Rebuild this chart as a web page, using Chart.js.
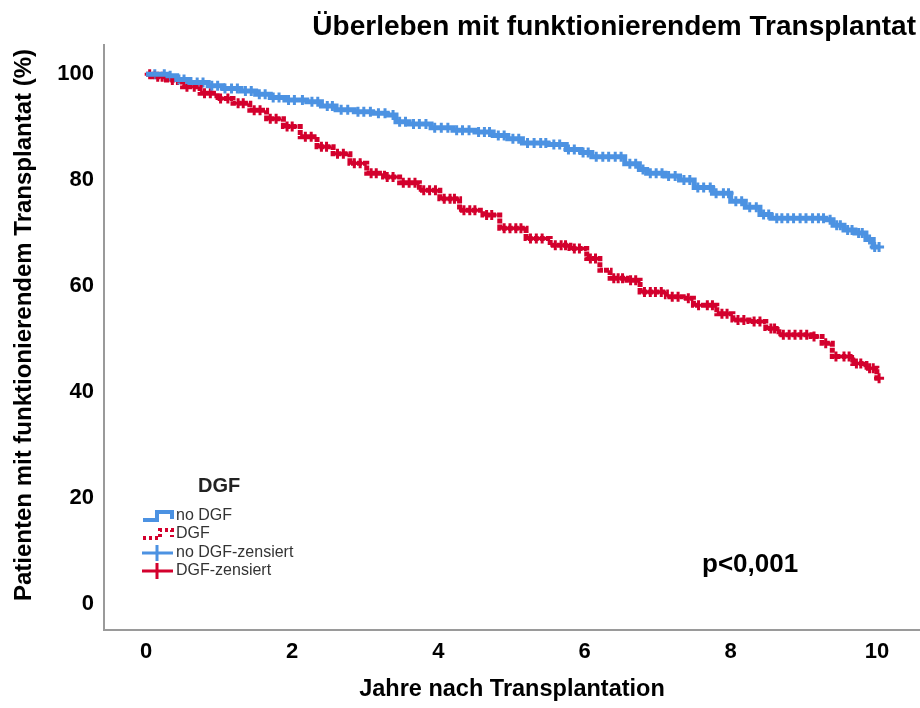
<!DOCTYPE html>
<html><head><meta charset="utf-8">
<script src="https://cdn.jsdelivr.net/npm/chart.js@4.4.1/dist/chart.umd.min.js"></script>
<style>html,body{margin:0;padding:0;background:#fff}#wrap{width:920px;height:708px;position:relative}</style>
</head><body><div id="wrap"><canvas id="c" width="920" height="708"></canvas></div>
<script>
const chartTitle = "Überleben mit funktionierendem Transplantat";
const xAxisTitle = "Jahre nach Transplantation";
const yAxisTitle = "Patienten mit funktionierendem Transplantat (%)";
const legendTitle = "DGF";
const seriesNames = ["no DGF", "DGF", "no DGF-zensiert", "DGF-zensiert"];
const pValueText = "p<0,001";
const xTicks = [0, 2, 4, 6, 8, 10];
const yTicks = [0, 20, 40, 60, 80, 100];

const noDgfYears = [0, 0.3, 0.42, 0.6, 0.85, 1.05, 1.3, 1.5, 1.7, 1.9, 2.2, 2.4, 2.6, 2.85, 3.1, 3.3, 3.42, 3.6, 3.9, 4.2, 4.5, 4.75, 4.95, 5.15, 5.5, 5.75, 5.95, 6.1, 6.55, 6.75, 6.85, 7.1, 7.3, 7.5, 7.75, 8.0, 8.2, 8.4, 8.55, 9.3, 9.4, 9.55, 9.7, 9.85, 9.95, 10.04];
const noDgfSurvival = [100, 99.7, 99.0, 98.4, 97.8, 97.3, 96.8, 96.2, 95.6, 95.1, 94.8, 94.0, 93.3, 92.9, 92.6, 92.3, 91.0, 90.6, 89.9, 89.4, 89.1, 88.4, 87.8, 87.0, 86.7, 85.8, 85.2, 84.4, 83.1, 82.0, 81.3, 80.8, 80.0, 78.6, 77.5, 76.0, 74.9, 73.5, 72.8, 72.5, 71.5, 70.6, 70.0, 68.8, 67.4, 67.4];
const dgfYears = [0, 0.1, 0.28, 0.5, 0.74, 0.97, 1.19, 1.42, 1.65, 1.88, 2.11, 2.34, 2.56, 2.79, 3.02, 3.25, 3.47, 3.74, 4.02, 4.29, 4.61, 4.84, 5.2, 5.53, 5.8, 6.03, 6.21, 6.35, 6.58, 6.76, 7.12, 7.35, 7.49, 7.81, 8.03, 8.25, 8.48, 8.66, 9.1, 9.25, 9.39, 9.67, 9.85, 10.0, 10.04];
const dgfSurvival = [100, 99.5, 98.9, 97.6, 96.4, 95.4, 94.5, 93.2, 91.6, 90.1, 88.2, 86.3, 85.0, 83.2, 81.3, 80.6, 79.5, 78.1, 76.5, 74.3, 73.4, 70.9, 69.0, 67.7, 67.1, 65.2, 63.0, 61.5, 61.1, 58.9, 58.0, 57.7, 56.4, 54.8, 53.6, 53.3, 52.0, 50.8, 50.5, 49.2, 46.7, 45.4, 44.5, 42.6, 42.6];

const noDgfCensored = [0.12, 0.25, 0.33, 0.45, 0.52, 0.61, 0.7, 0.78, 0.9, 0.98, 1.08, 1.17, 1.25, 1.36, 1.44, 1.55, 1.63, 1.74, 1.82, 1.95, 2.03, 2.14, 2.27, 2.35, 2.48, 2.55, 2.67, 2.76, 2.9, 2.98, 3.07, 3.18, 3.27, 3.38, 3.47, 3.55, 3.66, 3.74, 3.83, 3.95, 4.04, 4.13, 4.25, 4.33, 4.42, 4.55, 4.63, 4.7, 4.82, 4.9, 5.02, 5.1, 5.22, 5.31, 5.4, 5.47, 5.58, 5.66, 5.78, 5.86, 5.98, 6.05, 6.16, 6.25, 6.33, 6.42, 6.5, 6.62, 6.7, 6.8, 6.9, 6.98, 7.06, 7.15, 7.24, 7.36, 7.44, 7.55, 7.63, 7.72, 7.8, 7.9, 7.97, 8.07, 8.15, 8.26, 8.35, 8.45, 8.52, 8.63, 8.7, 8.78, 8.86, 8.95, 9.03, 9.12, 9.2, 9.27, 9.36, 9.45, 9.5, 9.6, 9.66, 9.75, 9.8, 9.9, 9.97, 10.03];
const dgfCensored = [0.05, 0.16, 0.22, 0.36, 0.43, 0.56, 0.66, 0.8, 0.88, 1.02, 1.12, 1.26, 1.33, 1.48, 1.56, 1.7, 1.78, 1.93, 2.0, 2.18, 2.26, 2.4, 2.47, 2.62, 2.7, 2.85, 2.93, 3.08, 3.15, 3.3, 3.38, 3.52, 3.6, 3.68, 3.8, 3.88, 3.96, 4.08, 4.16, 4.22, 4.35, 4.43, 4.5, 4.66, 4.73, 4.9, 4.98, 5.06, 5.13, 5.26, 5.34, 5.42, 5.6, 5.68, 5.74, 5.86, 5.93, 6.08, 6.15, 6.4, 6.46, 6.52, 6.63, 6.7, 6.82, 6.9, 6.97, 7.05, 7.2, 7.28, 7.42, 7.56, 7.68, 7.75, 7.88, 7.95, 8.1, 8.18, 8.32, 8.4, 8.55, 8.6, 8.72, 8.8, 8.88, 8.96, 9.04, 9.14, 9.3, 9.44, 9.55, 9.62, 9.72, 9.78, 9.9, 9.95, 10.03];

const blue = '#4C92E2';
const red = '#D3002D';
const FONT = '"Liberation Sans", Arial, sans-serif';

function survAt(years, surv, t) {
  let v = surv[0];
  for (let i = 0; i < years.length; i++) if (years[i] <= t) v = surv[i];
  return v;
}
const toPts = (ys, ss) => ys.map((x, i) => ({x: x, y: ss[i]}));
const censPts = (cs, ys, ss) => cs.map(t => ({x: t, y: survAt(ys, ss, t)}));

const overlay = {
  id: 'overlay',
  afterDraw(chart) {
    const ctx = chart.ctx;
    ctx.save();
    ctx.fillStyle = '#000';
    ctx.textAlign = 'right';
    ctx.textBaseline = 'alphabetic';
    ctx.font = 'bold 28px ' + FONT;
    ctx.fillText(chartTitle, 916, 35);
    ctx.textAlign = 'left';
    ctx.font = 'bold 26px ' + FONT;
    ctx.fillText(pValueText, 702, 572);
    // y axis title
    ctx.save();
    ctx.translate(24, 325);
    ctx.rotate(-Math.PI / 2);
    ctx.textAlign = 'center';
    ctx.textBaseline = 'middle';
    ctx.font = 'bold 24px ' + FONT;
    ctx.fillText(yAxisTitle, 0, 0);
    ctx.restore();
    // legend
    ctx.font = 'bold 20px ' + FONT;
    ctx.fillStyle = '#222';
    ctx.fillText(legendTitle, 198, 492);
    ctx.lineCap = 'butt';
    ctx.lineWidth = 4;
    ctx.strokeStyle = blue;
    ctx.beginPath();
    ctx.moveTo(143, 520); ctx.lineTo(157, 520); ctx.lineTo(157, 512); ctx.lineTo(172, 512); ctx.lineTo(172, 519);
    ctx.stroke();
    ctx.strokeStyle = red;
    ctx.setLineDash([3, 3]);
    ctx.beginPath();
    ctx.moveTo(143, 538); ctx.lineTo(160, 538); ctx.lineTo(160, 530); ctx.lineTo(172, 530); ctx.lineTo(172, 537);
    ctx.stroke();
    ctx.setLineDash([]);
    ctx.lineWidth = 3;
    [[blue, 553], [red, 571]].forEach(([c, y]) => {
      ctx.strokeStyle = c;
      ctx.beginPath();
      ctx.moveTo(142, y); ctx.lineTo(173, y);
      ctx.moveTo(157, y - 8); ctx.lineTo(157, y + 8);
      ctx.stroke();
    });
    ctx.fillStyle = '#333';
    ctx.font = '16px ' + FONT;
    ctx.textBaseline = 'middle';
    const ys = [516, 534, 553, 571];
    seriesNames.forEach((n, i) => ctx.fillText(n, 176, ys[i]));
    ctx.restore();
  }
};

new Chart(document.getElementById('c'), {
  type: 'scatter',
  data: {
    datasets: [
      {label: seriesNames[2], data: censPts(noDgfCensored, noDgfYears, noDgfSurvival), showLine: false, pointStyle: 'cross', pointRadius: 5, borderColor: blue, backgroundColor: blue, pointBorderWidth: 3, order: 3},
      {label: seriesNames[3], data: censPts(dgfCensored, dgfYears, dgfSurvival), showLine: false, pointStyle: 'cross', pointRadius: 5, borderColor: red, backgroundColor: red, pointBorderWidth: 3, order: 4},
      {label: seriesNames[0], data: toPts(noDgfYears, noDgfSurvival), showLine: true, stepped: true, borderColor: blue, borderWidth: 5, pointRadius: 0, order: 1},
      {label: seriesNames[1], data: toPts(dgfYears, dgfSurvival), showLine: true, stepped: true, borderColor: red, borderWidth: 5, borderDash: [5, 1], pointRadius: 0, order: 2}
    ]
  },
  options: {
    responsive: false,
    animation: false,
    devicePixelRatio: 1,
    layout: {autoPadding: false, padding: {top: 45, right: 0, bottom: 0, left: 0}},
    plugins: {legend: {display: false}, tooltip: {enabled: false}, title: {display: false}},
    scales: {
      x: {
        type: 'linear', min: -0.575, max: 10.59,
        afterBuildTicks: s => { s.ticks = xTicks.map(v => ({value: v})); },
        afterFit: s => { s.height = 78; s.paddingLeft = 0; s.paddingRight = 0; },
        grid: {display: false, drawTicks: false},
        border: {display: true, color: '#9a9a9a', width: 2},
        ticks: {color: '#000', padding: 9, font: {family: FONT, size: 22, weight: 'bold'}},
        title: {display: true, text: xAxisTitle, color: '#000', padding: {top: 0, bottom: 4}, font: {family: FONT, size: 23.5, weight: 'bold'}}
      },
      y: {
        type: 'linear', min: -4.9, max: 105.5,
        afterBuildTicks: s => { s.ticks = yTicks.map(v => ({value: v})); },
        afterFit: s => { s.width = 104; },
        grid: {display: false, drawTicks: false},
        border: {display: true, color: '#9a9a9a', width: 2},
        ticks: {color: '#000', padding: 10, font: {family: FONT, size: 22, weight: 'bold'}},
        title: {display: false, text: yAxisTitle}
      }
    }
  },
  plugins: [overlay]
});
</script></body></html>
